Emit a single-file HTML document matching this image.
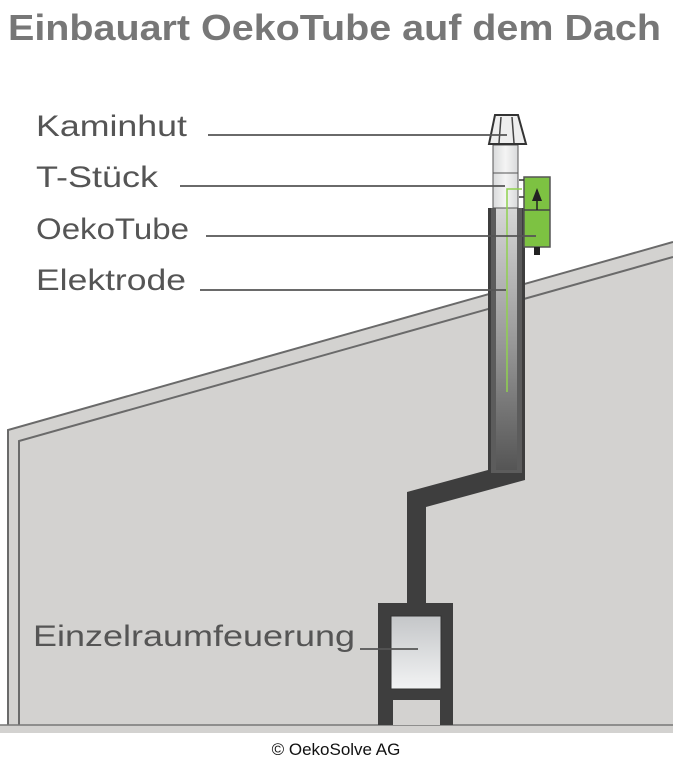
<!DOCTYPE html>
<html><head><meta charset="utf-8"><style>
html,body{margin:0;padding:0;background:#fff;}
svg{display:block;}
</style></head><body>
<svg width="673" height="764" viewBox="0 0 673 764" xmlns="http://www.w3.org/2000/svg" font-family="Liberation Sans, sans-serif">
<defs>
<linearGradient id="inner" x1="0" y1="0" x2="0" y2="1">
<stop offset="0" stop-color="#c4c6c8"/><stop offset="1" stop-color="#f2f3f4"/></linearGradient>
<linearGradient id="core" x1="0" y1="0" x2="0" y2="1">
<stop offset="0" stop-color="#d6d6d6"/><stop offset="0.5" stop-color="#9a9a9a"/><stop offset="1" stop-color="#555"/></linearGradient>
<linearGradient id="light" x1="0" y1="0" x2="1" y2="0">
<stop offset="0" stop-color="#d9dadb"/><stop offset="0.5" stop-color="#f4f4f4"/><stop offset="1" stop-color="#d9dadb"/></linearGradient>
</defs>
<text x="8" y="40" font-size="36" font-weight="bold" fill="#777" textLength="653" lengthAdjust="spacingAndGlyphs">Einbauart OekoTube auf dem Dach</text>
<polygon points="8,430 673,242 673,733 8,733" fill="#d3d2d0"/>
<polyline points="8,733 8,430 673,242" fill="none" stroke="#6a6a6a" stroke-width="2"/>
<polyline points="19,733 19,441 673,257" fill="none" stroke="#6a6a6a" stroke-width="2"/>
<rect x="0" y="725" width="673" height="8" fill="#d3d2d0"/>
<line x1="0" y1="725" x2="673" y2="725" stroke="#777" stroke-width="1.5"/>
<rect x="0" y="733" width="673" height="31" fill="#fff"/>
<polygon points="488,208 525,208 525,480 426,507 426,603 407,603 407,492 488,470" fill="#3e3e3e"/>
<rect x="491" y="208" width="31" height="265" fill="#5c5c5c"/>
<rect x="496" y="208" width="21" height="262" fill="url(#core)"/>
<rect x="493" y="145" width="25" height="63" fill="url(#light)" stroke="#555" stroke-width="1"/>
<line x1="493" y1="173" x2="518" y2="173" stroke="#555" stroke-width="1"/>
<polygon points="495,115 518,115 526,144 489,144" fill="#eee" stroke="#333" stroke-width="2"/>
<line x1="501" y1="117" x2="499" y2="143" stroke="#444" stroke-width="1.5"/>
<line x1="512" y1="117" x2="514" y2="143" stroke="#444" stroke-width="1.5"/>
<rect x="524" y="177" width="26" height="70" fill="#7dc242" stroke="#555" stroke-width="1.5"/>
<line x1="524" y1="210" x2="550" y2="210" stroke="#444" stroke-width="1.5"/>
<polygon points="537,188 532,201 542,201" fill="#222"/>
<line x1="537" y1="190" x2="537" y2="210" stroke="#222" stroke-width="1.5"/>
<rect x="534" y="247" width="6" height="8" fill="#222"/>
<line x1="519" y1="180" x2="524" y2="180" stroke="#333" stroke-width="1.5"/>
<line x1="519" y1="197" x2="524" y2="197" stroke="#333" stroke-width="1.5"/>
<polyline points="522,189 507,189 507,392" fill="none" stroke="#8fd14f" stroke-width="1.5"/>
<rect x="378" y="603" width="75" height="122" fill="#3e3e3e"/>
<rect x="391" y="616" width="50" height="73" fill="url(#inner)" stroke="#333" stroke-width="1"/>
<rect x="393" y="700" width="47" height="25" fill="#d3d2d0"/>
<g fill="#555" font-size="30">
<text x="36" y="136" textLength="151" lengthAdjust="spacingAndGlyphs">Kaminhut</text>
<text x="36" y="187" textLength="122" lengthAdjust="spacingAndGlyphs">T-Stück</text>
<text x="36" y="239" textLength="153" lengthAdjust="spacingAndGlyphs">OekoTube</text>
<text x="36" y="290" textLength="150" lengthAdjust="spacingAndGlyphs">Elektrode</text>
<text x="33" y="646" textLength="322" lengthAdjust="spacingAndGlyphs">Einzelraumfeuerung</text>
</g>
<g stroke="#555" stroke-width="1.8">
<line x1="208" y1="135" x2="507" y2="135"/>
<line x1="180" y1="186" x2="505" y2="186"/>
<line x1="206" y1="236" x2="536" y2="236"/>
<line x1="200" y1="290" x2="506" y2="290"/>
<line x1="360" y1="649" x2="418" y2="649"/>
</g>
<text x="336" y="755" font-size="17" fill="#111" text-anchor="middle">© OekoSolve AG</text>
</svg>
</body></html>
